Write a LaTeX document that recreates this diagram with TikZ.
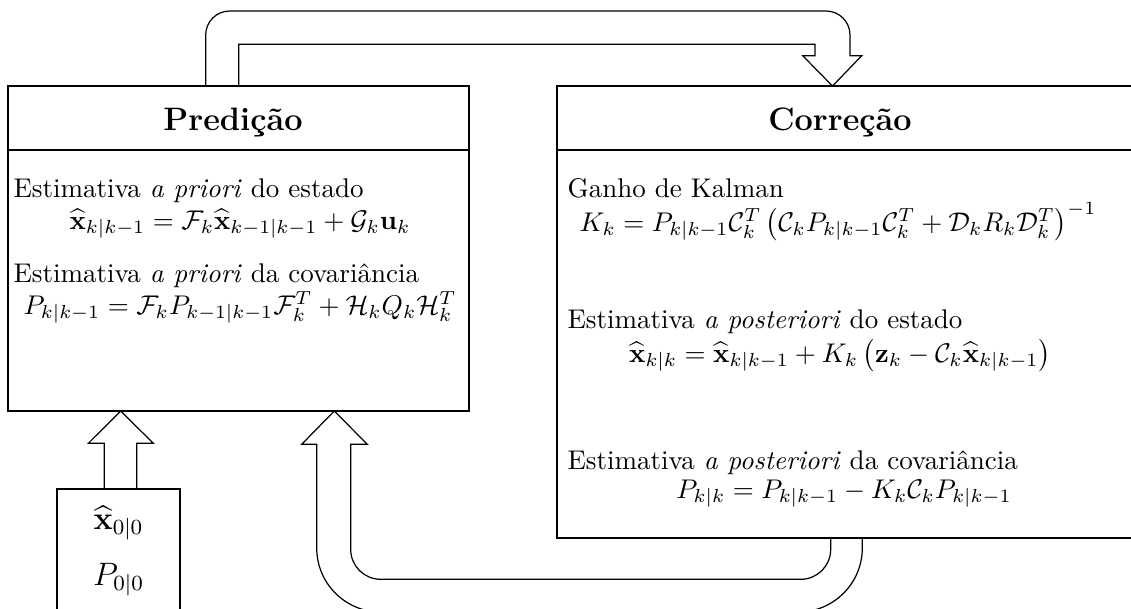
\documentclass[tikz,border=0pt]{standalone}
\usepackage{amsmath,amssymb}
\tikzset{
  boxline/.style={draw, line width=0.75pt},
  bigarrow/.style={draw, line width=0.45pt, line join=miter},
  txt/.style={anchor=base west, inner sep=0pt, font=\normalsize},
  eq/.style={anchor=base, inner sep=0pt, font=\normalsize},
  ttl/.style={anchor=base, inner sep=0pt, font=\large\bfseries},
  init/.style={inner sep=0pt, font=\large}
}
\begin{document}
\begin{tikzpicture}[x=0.37pt,y=-0.37pt]
\useasboundingbox (0,0) rectangle (1131,608);
% boxes
\draw[boxline] (8,86) rectangle (469,411);
\draw[boxline] (8,150) -- (469,150);
\draw[boxline] (1136,86) -- (557,86) -- (557,538) -- (1136,538);
\draw[boxline] (557,150) -- (1136,150);
\draw[boxline] (57.3,620) -- (57.3,489.3) -- (180,489.3) -- (180,620);
% titles
\node[ttl] (tp) at (233,130) {Predição};
\node[ttl] (tc) at (840,130) {Correção};
% prediction contents
\node[txt] (p1) at (13,197) {Estimativa \textit{a priori} do estado};
\node[eq] (p2) at (240,229) {$\widehat{\mathbf{x}}_{k|k-1} = \mathcal{F}_k\widehat{\mathbf{x}}_{k-1|k-1} + \mathcal{G}_k\mathbf{u}_k$};
\node[txt] (p3) at (13,282) {Estimativa \textit{a priori} da covariância};
\node[eq] (p4) at (240,314) {$P_{k|k-1} = \mathcal{F}_k P_{k-1|k-1}\mathcal{F}_k^T + \mathcal{H}_k Q_k \mathcal{H}_k^T$};
% correction contents
\node[txt] (c1) at (567,197) {Ganho de Kalman};
\node[eq] (c2) at (838,231) {$K_k = P_{k|k-1}\mathcal{C}_k^T \left(\mathcal{C}_k P_{k|k-1}\mathcal{C}_k^T + \mathcal{D}_k R_k \mathcal{D}_k^T\right)^{-1}$};
\node[txt] (c3) at (567,328) {Estimativa \textit{a posteriori} do estado};
\node[eq] (c4) at (840,362) {$\widehat{\mathbf{x}}_{k|k} = \widehat{\mathbf{x}}_{k|k-1} + K_k\left(\mathbf{z}_k - \mathcal{C}_k\widehat{\mathbf{x}}_{k|k-1}\right)$};
\node[txt] (c5) at (567,469) {Estimativa \textit{a posteriori} da covariância};
\node[eq] (c6) at (844,498) {$P_{k|k} = P_{k|k-1} - K_k\mathcal{C}_k P_{k|k-1}$};
% initial values
\node[init] (i1) at (118.6,523) {$\widehat{\mathbf{x}}_{0|0}$};
\node[init] (i2) at (118.6,580) {$P_{0|0}$};
% top arrow
\draw[bigarrow] (205.7,86) -- (205.7,35) .. controls (205.7,21.7) and (216.4,11) .. (229.7,11)
  -- (826,11) .. controls (839.3,11) and (850,21.7) .. (850,35)
  -- (850,55.7) -- (861.7,55.7) -- (832.5,86) -- (802.7,55.7) -- (815,55.7)
  -- (815,44.3) -- (238.7,44.3) -- (238.7,86);
% bottom arrow
\draw[bigarrow] (830.7,538) -- (830.7,549.3) .. controls (830.7,565.9) and (817.3,579.3) .. (800.7,579.3)
  -- (380.7,579.3) .. controls (364.1,579.3) and (350.7,565.9) .. (350.7,549.3)
  -- (350.7,444.3) -- (367.3,444.3) -- (334.3,411) -- (301.7,444.3) -- (316.7,444.3)
  -- (316.7,548) .. controls (316.7,583.3) and (345.4,612) .. (380.7,612)
  -- (798.3,612) .. controls (833.6,612) and (862.3,583.3) .. (862.3,548)
  -- (862.3,538);
% initial arrow
\draw[bigarrow] (104.3,489.3) -- (104.3,443.3) -- (88.3,443.3) -- (120.7,411)
  -- (153.3,443.3) -- (136.7,443.3) -- (136.7,489.3);
\end{tikzpicture}
\end{document}
